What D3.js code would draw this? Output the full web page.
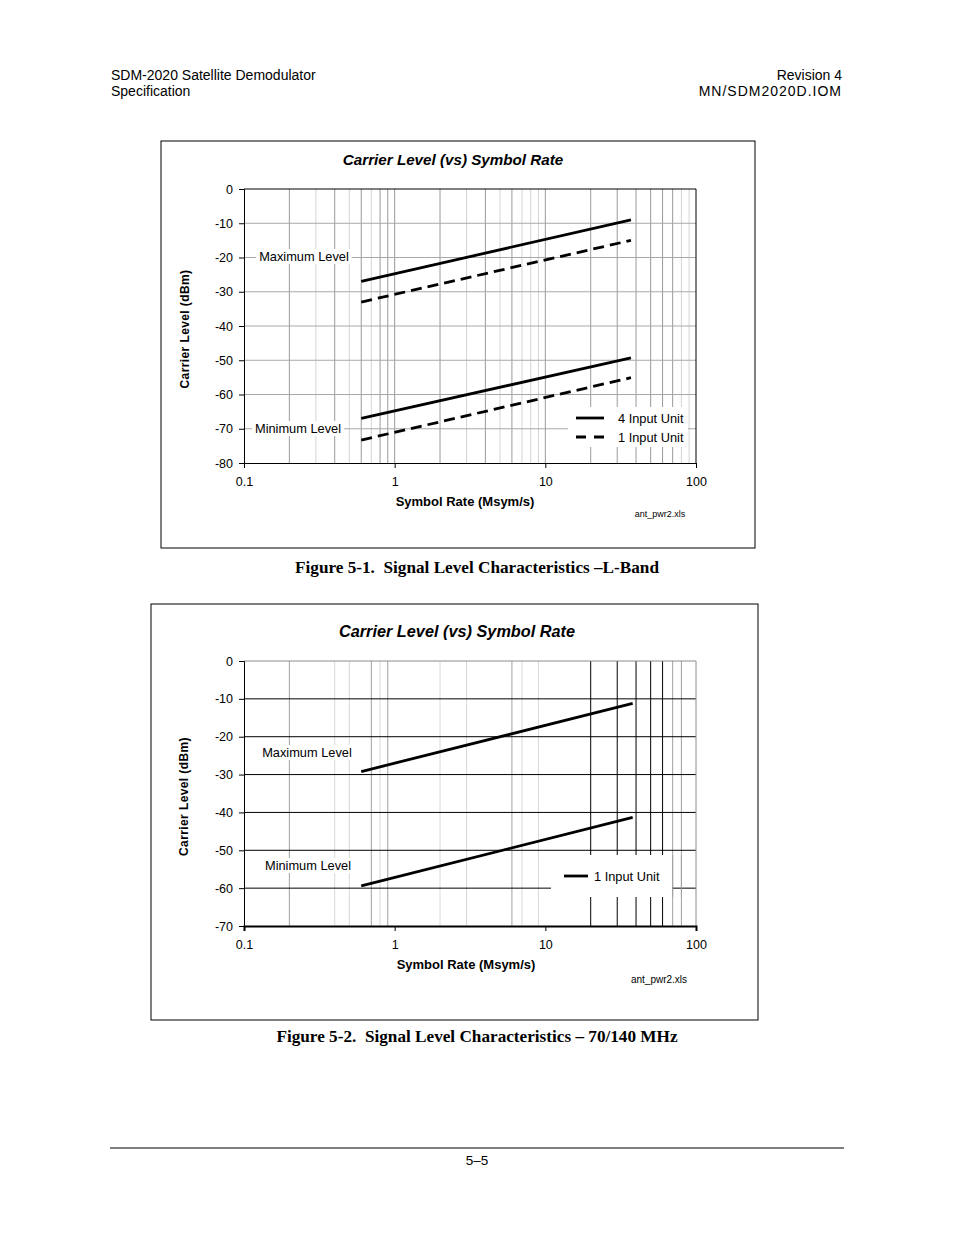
<!DOCTYPE html>
<html>
<head>
<meta charset="utf-8">
<script src="https://cdn.jsdelivr.net/npm/d3@7"></script>
<style>
  body { margin: 0; background: #fff; }
</style>
</head>
<body>
<svg id="page" width="954" height="1235" font-family='"Liberation Sans", Arial, sans-serif'></svg>
<script>
// ---- data ----
// Figure 5-1, L-Band
const lbandRates = [0.6, 37];
const lbandMax4 = [-27, -9];
const lbandMax1 = [-33, -15];
const lbandMin4 = [-67, -49.3];
const lbandMin1 = [-73.3, -55.1];
const lbandYTicks = [0, -10, -20, -30, -40, -50, -60, -70, -80];
// Figure 5-2, 70/140 MHz
const ifRates = [0.6, 38];
const ifMax = [-29.2, -11.2];
const ifMin = [-59.4, -41.3];
const ifYTicks = [0, -10, -20, -30, -40, -50, -60, -70];

const xTicks = [0.1, 1, 10, 100];
const xTickLabels = ['0.1', '1', '10', '100'];

// scanned gridlines come out in different greys
const lbandGridDark = [0.2, 0.4, 0.6, 0.8, 0.9, 1, 2, 4, 6, 10, 20, 30, 40, 50, 60, 70];
const lbandGridLight = [0.3, 0.5, 0.7, 3, 5, 7, 8, 9, 80, 90];
const ifGridBlack = [20, 30, 40, 50, 60];
const ifGridGrey = [0.2, 0.7, 0.9, 6, 70, 80];
const ifGridLight = [0.4, 0.5, 0.8, 2, 3, 7, 9];

const SANS = '"Liberation Sans", Arial, sans-serif';
const SERIF = '"Liberation Serif", "Times New Roman", serif';
const svg = d3.select('#page');

// page header / footer
svg.append('text').attr('x', 111).attr('y', 80).attr('font-size', 14).text('SDM-2020 Satellite Demodulator');
svg.append('text').attr('x', 111).attr('y', 96).attr('font-size', 14).text('Specification');
svg.append('text').attr('x', 842).attr('y', 80).attr('font-size', 14).attr('text-anchor', 'end').text('Revision 4');
svg.append('text').attr('x', 842).attr('y', 96).attr('font-size', 14).attr('text-anchor', 'end')
    .attr('letter-spacing', 1).text('MN/SDM2020D.IOM');
svg.append('line').attr('x1', 110).attr('x2', 844).attr('y1', 1148).attr('y2', 1148).attr('stroke', '#000').attr('stroke-width', 1);
svg.append('text').attr('x', 477).attr('y', 1165).attr('font-size', 13.5).attr('text-anchor', 'middle').text('5–5');

function labelWithBg(g, x, y, txt, size) {
    const t = g.append('text').attr('x', x).attr('y', y).attr('font-size', size)
        .attr('text-anchor', 'middle').text(txt);
    const bb = t.node().getBBox();
    g.insert('rect', function() { return t.node(); })
        .attr('x', bb.x - 3).attr('y', bb.y).attr('width', bb.width + 6).attr('height', bb.height)
        .attr('fill', '#fff');
}

function drawChart(cfg) {
    const g = svg.append('g');
    g.append('rect').attr('x', cfg.box[0]).attr('y', cfg.box[1])
        .attr('width', cfg.box[2]).attr('height', cfg.box[3])
        .attr('fill', '#fff').attr('stroke', '#000').attr('stroke-width', 1);

    const x = d3.scaleLog().domain([0.1, 100]).range([244, 696]);
    const y = d3.scaleLinear().domain([0, cfg.yMin]).range([cfg.top, cfg.bottom]);

    g.append('text').attr('x', cfg.titleX).attr('y', cfg.top - 24)
        .attr('font-size', cfg.titleSize).attr('font-weight', 'bold').attr('font-style', 'italic')
        .attr('text-anchor', 'middle').text('Carrier Level (vs) Symbol Rate');

    // vertical grid
    cfg.vgrid.forEach(function(set) {
        g.selectAll(null).data(set.values).enter().append('line')
            .attr('x1', d => x(d)).attr('x2', d => x(d))
            .attr('y1', cfg.top).attr('y2', cfg.bottom)
            .attr('stroke', set.color).attr('stroke-width', 1);
    });
    // horizontal grid
    g.selectAll(null).data(cfg.yTicks.filter(d => d !== 0 && d !== cfg.yMin)).enter().append('line')
        .attr('x1', 244).attr('x2', 696)
        .attr('y1', d => y(d)).attr('y2', d => y(d))
        .attr('stroke', cfg.hgridColor).attr('stroke-width', 1);

    // frame
    g.append('line').attr('x1', 244).attr('x2', 696).attr('y1', cfg.top).attr('y2', cfg.top)
        .attr('stroke', cfg.frameColor);
    g.append('line').attr('x1', 696).attr('x2', 696).attr('y1', cfg.top).attr('y2', cfg.bottom)
        .attr('stroke', cfg.frameColor);

    // axes
    const yAxis = d3.axisLeft(y).tickValues(cfg.yTicks).tickFormat(d => String(d))
        .tickSize(5).tickPadding(6);
    const ya = g.append('g').attr('transform', 'translate(244,0)').call(yAxis)
        .attr('font-family', SANS).attr('font-size', 12.5);
    ya.select('.domain').attr('stroke', '#000');
    ya.selectAll('.tick line').attr('stroke', '#000');

    const xAxis = d3.axisBottom(x).tickValues(xTicks).tickFormat((d, i) => xTickLabels[i])
        .tickSize(5).tickPadding(9);
    const xa = g.append('g').attr('transform', 'translate(0,' + cfg.bottom + ')').call(xAxis)
        .attr('font-family', SANS).attr('font-size', 12.5);
    xa.select('.domain').attr('stroke', '#000').attr('stroke-width', cfg.xAxisWidth);
    xa.selectAll('.tick line').attr('stroke', '#000');

    g.append('text').attr('x', cfg.xTitleX).attr('y', cfg.bottom + 43)
        .attr('font-size', 13).attr('font-weight', 'bold').attr('text-anchor', 'middle')
        .text('Symbol Rate (Msym/s)');
    g.append('text')
        .attr('transform', 'translate(' + cfg.yTitleX + ',' + ((cfg.top + cfg.bottom) / 2 + 3) + ') rotate(-90)')
        .attr('font-size', 12).attr('font-weight', 'bold').attr('text-anchor', 'middle')
        .attr('letter-spacing', 0.4)
        .text('Carrier Level (dBm)');
    g.append('text').attr('x', cfg.fileX).attr('y', cfg.fileY)
        .attr('font-size', cfg.fileSize).attr('text-anchor', 'middle').text('ant_pwr2.xls');

    // level labels
    labelWithBg(g, cfg.maxLbl[0], cfg.maxLbl[1], 'Maximum Level', 12.8);
    labelWithBg(g, cfg.minLbl[0], cfg.minLbl[1], 'Minimum Level', 12.8);

    // legend background
    g.append('rect').attr('x', cfg.legBox[0]).attr('y', cfg.legBox[1])
        .attr('width', cfg.legBox[2]).attr('height', cfg.legBox[3]).attr('fill', '#fff');
    if (cfg.afterLegend) cfg.afterLegend(g, x, y);

    // series
    const line = d3.line().x(d => x(d[0])).y(d => y(d[1]));
    cfg.series.forEach(function(s) {
        g.append('path').attr('d', line(d3.zip(s.x, s.y)))
            .attr('fill', 'none').attr('stroke', '#000').attr('stroke-width', 2.8)
            .attr('stroke-dasharray', s.dash ? '11,6' : null);
    });

    // legend entries
    cfg.legend.forEach(function(l, i) {
        const ly = cfg.legY + i * 19;
        g.append('line').attr('x1', l.x1).attr('x2', l.x2).attr('y1', ly).attr('y2', ly)
            .attr('stroke', '#000').attr('stroke-width', 2.8)
            .attr('stroke-dasharray', l.dash ? '10,8' : null);
        g.append('text').attr('x', l.x2 + l.gap).attr('y', ly + 4.5)
            .attr('font-size', 12.8).text(l.name);
    });

    g.append('text').attr('x', 477).attr('y', cfg.caption[1])
        .attr('font-family', SERIF)
        .attr('font-size', 17.2).attr('font-weight', 'bold').attr('text-anchor', 'middle')
        .attr('xml:space', 'preserve').style('white-space', 'pre')
        .text(cfg.caption[0]);
}

drawChart({
    box: [161, 141, 594, 407],
    top: 189, bottom: 463, yMin: -80, yTicks: lbandYTicks,
    titleX: 453, titleSize: 15.2, xTitleX: 465, yTitleX: 189,
    fileX: 660, fileY: 517, fileSize: 9,
    vgrid: [
        { values: lbandGridLight, color: '#d4d4d4' },
        { values: lbandGridDark, color: '#9a9a9a' }
    ],
    hgridColor: '#a8a8a8', frameColor: '#000', xAxisWidth: 1,
    maxLbl: [304, 261], minLbl: [298, 433],
    legBox: [568, 407, 120, 40],
    legY: 418,
    legend: [
        { name: '4 Input Unit', x1: 576, x2: 604, gap: 14, dash: false },
        { name: '1 Input Unit', x1: 576, x2: 604, gap: 14, dash: true }
    ],
    series: [
        { x: lbandRates, y: lbandMax4, dash: false },
        { x: lbandRates, y: lbandMax1, dash: true },
        { x: lbandRates, y: lbandMin4, dash: false },
        { x: lbandRates, y: lbandMin1, dash: true }
    ],
    caption: ['Figure 5-1.  Signal Level Characteristics \u2013L-Band', 573]
});

drawChart({
    box: [151, 604, 607, 416],
    top: 661, bottom: 926, yMin: -70, yTicks: ifYTicks,
    titleX: 457, titleSize: 16.3, xTitleX: 466, yTitleX: 188,
    fileX: 659, fileY: 983, fileSize: 10,
    vgrid: [
        { values: ifGridLight, color: '#d8d8d8' },
        { values: ifGridGrey, color: '#a0a0a0' },
        { values: ifGridBlack, color: '#000' }
    ],
    hgridColor: '#000', frameColor: '#8c8c8c', xAxisWidth: 2,
    maxLbl: [307, 757], minLbl: [308, 870],
    legBox: [551, 855, 121, 42],
    afterLegend: function(g, x, y) {
        // the two grey gridlines run through the legend box
        g.selectAll(null).data([70, 80]).enter().append('line')
            .attr('x1', d => x(d)).attr('x2', d => x(d))
            .attr('y1', 855).attr('y2', 897).attr('stroke', '#a0a0a0');
    },
    legY: 876,
    legend: [
        { name: '1 Input Unit', x1: 564, x2: 588, gap: 6, dash: false }
    ],
    series: [
        { x: ifRates, y: ifMax, dash: false },
        { x: ifRates, y: ifMin, dash: false }
    ],
    caption: ['Figure 5-2.  Signal Level Characteristics \u2013 70/140 MHz', 1042]
});
</script>
</body>
</html>
